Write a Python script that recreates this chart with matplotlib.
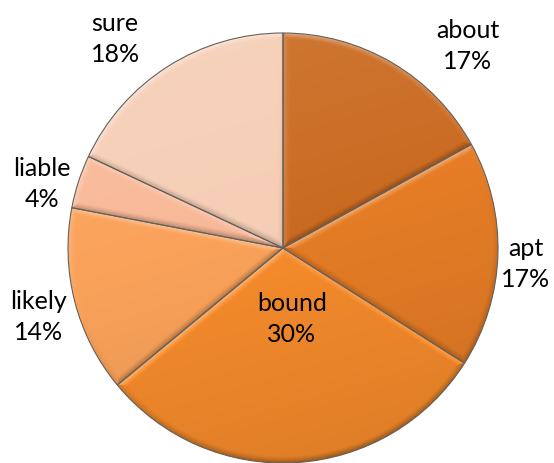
import numpy as np
import matplotlib.pyplot as plt
from matplotlib.colors import to_rgb

labels = ['about', 'apt', 'bound', 'likely', 'liable', 'sure']
shares = [17, 17, 30, 14, 4, 18]
colors = ['#ca6b22', '#e67d26', '#f78c2c', '#faa25a', '#f8b998', '#f6ceb6']

# where each "name\nNN%" label sits, in pie radius units
label_xy = [(0.86, 0.94), (1.13, -0.074), (0.042, -0.33),
            (-1.135, -0.321), (-1.121, 0.298), (-0.781, 0.972)]

plt.rcParams['font.family'] = ['Lato', 'DejaVu Sans']

fig = plt.figure(figsize=(5.54, 4.63), dpi=100)
ax = fig.add_axes([0, 0, 1, 1])

wedges, _ = ax.pie(shares, colors=colors, startangle=90, counterclock=False,
                   wedgeprops=dict(edgecolor='#66605a', linewidth=0.8))

# shaded fill for every slice: soft gradient plus a narrow bevel along the edges
N = 800
lim = 1.02
g = np.linspace(-lim, lim, N)
X, Y = np.meshgrid(g, g)
R = np.hypot(X, Y)
PHI = np.degrees(np.arctan2(Y, X))
light = np.array([-0.35, 1.0])
light = light / np.linalg.norm(light)
bevel_w = 0.032

for w in wedges:
    base = np.array(to_rgb(w.get_facecolor()))
    t1, t2 = w.theta1, w.theta2
    a = np.radians((PHI - t1) % 360)
    b = np.radians((t2 - PHI) % 360)
    d1 = np.where(a < np.pi / 2, R * np.sin(a), R)
    d2 = np.where(b < np.pi / 2, R * np.sin(b), R)
    d3 = 1 - R
    n1 = np.radians(t1 - 90)
    n2 = np.radians(t2 + 90)
    dot1 = np.cos(n1) * light[0] + np.sin(n1) * light[1]
    dot2 = np.cos(n2) * light[0] + np.sin(n2) * light[1]
    dot3 = (X * light[0] + Y * light[1]) / np.maximum(R, 1e-6)
    d = np.stack([d1, d2, d3])
    dots = np.stack([np.full_like(R, dot1), np.full_like(R, dot2), dot3])
    k = np.argmin(d, axis=0)
    dmin = np.take_along_axis(d, k[None], 0)[0]
    dn = np.take_along_axis(dots, k[None], 0)[0]
    bev = np.clip(1 - dmin / bevel_w, 0, 1) ** 1.3
    bev_s = np.where(dn > 0, 0.45 * dn, 0.30 * dn) * bev
    s = 0.08 * (Y - 0.3 * X) - 0.01 + bev_s
    s = s[..., None]
    rgb = np.where(s > 0, base + (1 - base) * s, base * (1 + s))
    im = ax.imshow(np.clip(rgb, 0, 1), origin='lower', extent=(-lim, lim, -lim, lim),
                   interpolation='bilinear', zorder=2)
    im.set_clip_path(w)
    w.set_facecolor('none')
    w.set_zorder(3)

for name, share, (x, y) in zip(labels, shares, label_xy):
    ax.text(x, y, f'{name}\n{share}%', ha='center', va='center', fontsize=18,
            linespacing=1.4, color='black', zorder=4)

ax.set_aspect('equal')
ax.set_xlim(-283 / 215, (554 - 283) / 215)
ax.set_ylim(-(463 - 248) / 215, 248 / 215)
ax.axis('off')

fig.savefig('out.png', dpi=100)
